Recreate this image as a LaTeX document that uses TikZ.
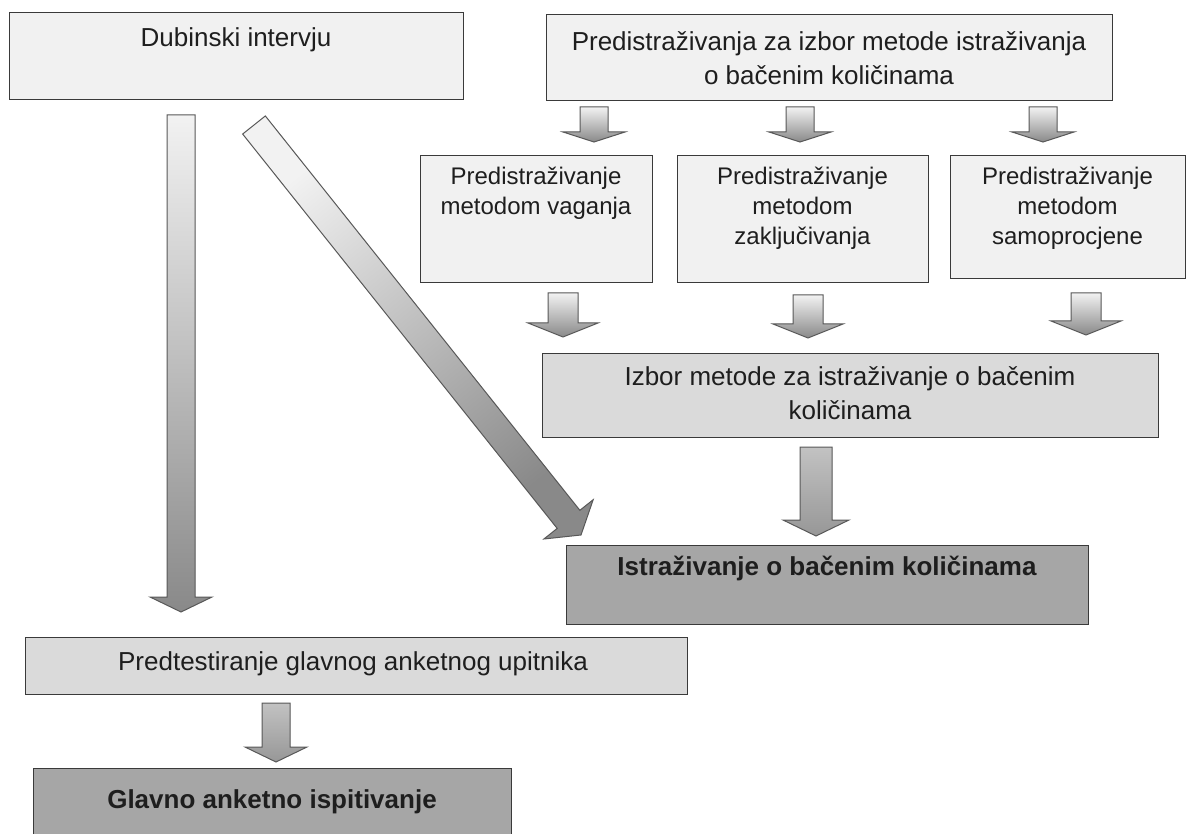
\documentclass[tikz,border=0pt]{standalone}
\usepackage{fontspec}
\setmainfont{Liberation Sans}
\usetikzlibrary{calc}
\definecolor{fillA}{HTML}{F1F1F1}
\definecolor{fillB}{HTML}{DADADA}
\definecolor{fillC}{HTML}{A6A6A6}
\definecolor{edgeC}{HTML}{3A3A3A}
\definecolor{txtC}{HTML}{1E1E1E}
\definecolor{arrLight}{HTML}{F2F2F2}
\definecolor{arrDark}{HTML}{898989}
\definecolor{arrMidT}{HTML}{C2C2C2}
\definecolor{arrMidB}{HTML}{979797}
\newcommand\tstrut{\rule{0pt}{25pt}}
% #1 style, #2 tail, #3 tip, #4 shaft half width, #5 head half width, #6 head length
\newcommand\blockarrow[6]{%
  \coordinate (bahead) at ($(#3)!#6!(#2)$);
  \draw[#1] ($(#2)!#4!90:(#3)$) -- ($(bahead)!#4!90:(#3)$) -- ($(bahead)!#5!90:(#3)$) -- (#3)
     -- ($(bahead)!#5!-90:(#3)$) -- ($(bahead)!#4!-90:(#3)$) -- ($(#2)!#4!-90:(#3)$) -- cycle;
}
\begin{document}
\begin{tikzpicture}[x=1pt,y=-1pt,
  boxbase/.style={draw=edgeC, line width=1.4pt, anchor=north west, inner sep=0pt},
  boxA/.style={boxbase, fill=fillA},
  boxB/.style={boxbase, fill=fillB},
  boxC/.style={boxbase, fill=fillC},
  txtbig/.style={align=center, inner sep=0pt, anchor=north, text=txtC, font=\fontsize{26}{34}\selectfont},
  txtsmall/.style={align=center, inner sep=0pt, anchor=north, text=txtC, font=\fontsize{24}{30}\selectfont},
  txtbold/.style={txtbig, font=\fontsize{26}{34}\selectfont\bfseries},
  arrv/.style={draw=edgeC!85, line width=1pt, top color=arrLight, bottom color=arrDark},
  arrmid/.style={draw=edgeC!85, line width=1pt, top color=arrMidT, bottom color=arrMidB},
  arrdiag/.style={draw=edgeC!85, line width=1pt, top color=arrLight, bottom color=arrDark, shading angle=39}
]
\useasboundingbox (0,0) rectangle (1195,834);
\fill[white] (0,0) rectangle (1195,834);

% boxes
\node[boxA, minimum width=454pt, minimum height=87pt] (dub) at (9,12) {};
\node[txtbig] (dubT) at (236,21) {\tstrut Dubinski intervju};

\node[boxA, minimum width=566pt, minimum height=86pt] (pre) at (546,14) {};
\node[txtbig] (preT) at (829,25) {\tstrut Predistraživanja za izbor metode istraživanja\\o bačenim količinama};

\node[boxA, minimum width=232pt, minimum height=127pt] (vag) at (420,155) {};
\node[txtsmall] (vagT) at (536,159) {\tstrut Predistraživanje\\metodom vaganja};

\node[boxA, minimum width=251pt, minimum height=127pt] (zak) at (677,155) {};
\node[txtsmall] (zakT) at (802.5,159) {\tstrut Predistraživanje\\metodom\\zaključivanja};

\node[boxA, minimum width=235pt, minimum height=123pt] (sam) at (950,155) {};
\node[txtsmall] (samT) at (1067.5,159) {\tstrut Predistraživanje\\metodom\\samoprocjene};

\node[boxB, minimum width=616pt, minimum height=84pt] (izb) at (542,353) {};
\node[txtbig] (izbT) at (850,360) {\tstrut Izbor metode za istraživanje o bačenim\\količinama};

\node[boxC, minimum width=522pt, minimum height=79pt] (ist) at (566,545) {};
\node[txtbold] (istT) at (827,550) {\tstrut Istraživanje o bačenim količinama};

\node[boxB, minimum width=662pt, minimum height=57pt] (prt) at (25,637) {};
\node[txtbig] (prtT) at (353,645) {\tstrut Predtestiranje glavnog anketnog upitnika};

\node[boxC, minimum width=478pt, minimum height=80pt] (gla) at (33,768) {};
\node[txtbold] (glaT) at (272,783) {\tstrut Glavno anketno ispitivanje};

% arrow end points
\coordinate (t1a) at (594,107);  \coordinate (t1b) at (594,142);
\coordinate (t2a) at (800,107);  \coordinate (t2b) at (800,142);
\coordinate (t3a) at (1043,107); \coordinate (t3b) at (1043,142);
\coordinate (r1a) at (563,293);  \coordinate (r1b) at (563,337);
\coordinate (r2a) at (808,295);  \coordinate (r2b) at (808,338);
\coordinate (r3a) at (1086,293); \coordinate (r3b) at (1086,335);
\coordinate (bga) at (816,447);  \coordinate (bgb) at (816,536);
\coordinate (lla) at (181,115);  \coordinate (llb) at (181,612);
\coordinate (dga) at (254,125);  \coordinate (dgb) at (581,535);
\coordinate (pga) at (276,703);  \coordinate (pgb) at (276,762);

\blockarrow{arrv}{t1a}{t1b}{14pt}{31pt}{10pt}
\blockarrow{arrv}{t2a}{t2b}{14pt}{31pt}{10pt}
\blockarrow{arrv}{t3a}{t3b}{14pt}{31pt}{10pt}
\blockarrow{arrv}{r1a}{r1b}{15pt}{35pt}{14pt}
\blockarrow{arrv}{r2a}{r2b}{15pt}{35pt}{14pt}
\blockarrow{arrv}{r3a}{r3b}{15pt}{35pt}{14pt}
\blockarrow{arrmid}{bga}{bgb}{16pt}{33pt}{16pt}
\blockarrow{arrv}{lla}{llb}{14pt}{31pt}{15pt}
\blockarrow{arrdiag}{dga}{dgb}{14.5pt}{31.5pt}{20pt}
\blockarrow{arrmid}{pga}{pgb}{14pt}{31pt}{15pt}
\end{tikzpicture}
\end{document}
